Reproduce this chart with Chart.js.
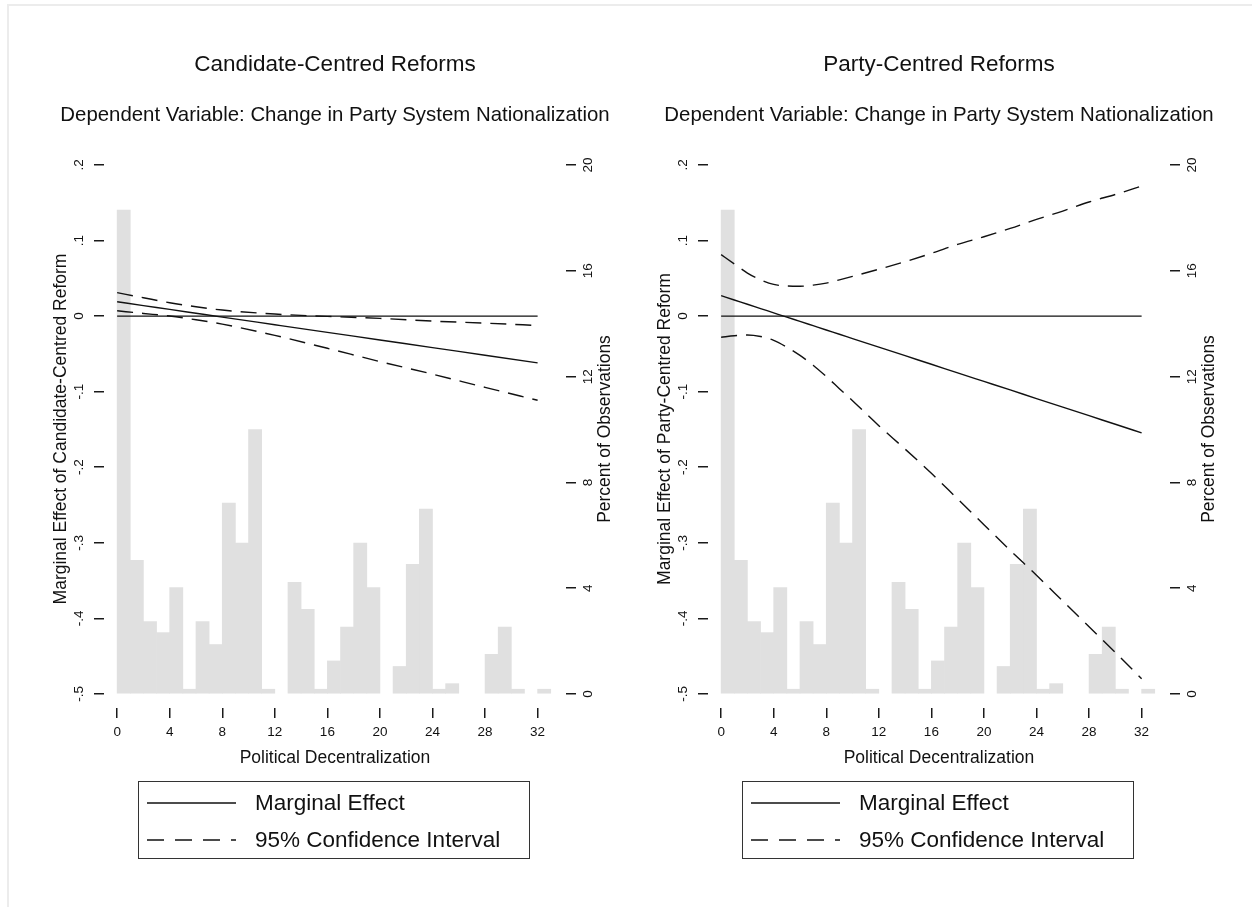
<!DOCTYPE html>
<html>
<head>
<meta charset="utf-8">
<script src="https://cdn.jsdelivr.net/npm/chart.js@4.4.0/dist/chart.umd.min.js"></script>
<style>
  html, body { margin: 0; padding: 0; background: #fff; }
  body { width: 1252px; height: 907px; position: relative; overflow: hidden;
         font-family: "Liberation Sans", Arial, sans-serif; color: #111; }
  .frame { position: absolute; left: 7px; top: 4px; width: 1300px; height: 1000px;
           border-left: 2px solid #ececec; border-top: 2px solid #ececec; }
  .panel { position: absolute; top: 0; height: 907px; }
  .panel canvas { position: absolute; left: 0; top: 0; }
  .title, .subtitle { position: absolute; left: 104px; width: 462px; text-align: center; white-space: nowrap; }
  .title { top: 50px; font-size: 22.5px; line-height: 28px; }
  .subtitle { top: 101px; left: 54px; width: 562px; font-size: 20.4px; line-height: 26px; }
  .legend { position: absolute; left: 138px; top: 781px; width: 392px; height: 78px;
            box-sizing: border-box; border: 1.5px solid #333; }
  .legend svg { position: absolute; left: 0; top: 0; }
  .legend span { position: absolute; left: 116px; font-size: 22.5px; line-height: 26px; white-space: nowrap; }
</style>
</head>
<body>
<div class="frame"></div>

<div class="panel" style="left:0; width:626px;">
  <canvas id="candidate" width="626" height="907"></canvas>
  <div class="title">Candidate-Centred Reforms</div>
  <div class="subtitle">Dependent Variable: Change in Party System Nationalization</div>
  <div class="legend">
    <svg width="390" height="76">
      <line x1="8" y1="21" x2="97" y2="21" stroke="#111" stroke-width="1.5"/>
      <line x1="8" y1="58" x2="97" y2="58" stroke="#111" stroke-width="1.5" stroke-dasharray="17 11"/>
    </svg>
    <span style="top:8px">Marginal Effect</span>
    <span style="top:45px">95% Confidence Interval</span>
  </div>
</div>

<div class="panel" style="left:604px; width:648px;">
  <canvas id="party" width="648" height="907"></canvas>
  <div class="title">Party-Centred Reforms</div>
  <div class="subtitle">Dependent Variable: Change in Party System Nationalization</div>
  <div class="legend">
    <svg width="390" height="76">
      <line x1="8" y1="21" x2="97" y2="21" stroke="#111" stroke-width="1.5"/>
      <line x1="8" y1="58" x2="97" y2="58" stroke="#111" stroke-width="1.5" stroke-dasharray="17 11"/>
    </svg>
    <span style="top:8px">Marginal Effect</span>
    <span style="top:45px">95% Confidence Interval</span>
  </div>
</div>

<script>
// histogram of political decentralization, one-unit bins starting at binStart
const binStart = [0, 1, 2, 3, 4, 5, 6, 7, 8, 9, 10, 11, 12, 13, 14, 15, 16,
                  17, 18, 19, 20, 21, 22, 23, 24, 25, 26, 27, 28, 29, 30, 31, 32];
const obsPercent = [18.3, 5.05, 2.74, 2.32, 4.02, 0.18, 2.74, 1.87, 7.22, 5.71, 10.0,
                    0.18, 0, 4.22, 3.2, 0.18, 1.25, 2.53, 5.71, 4.02, 0, 1.04, 4.9,
                    6.99, 0.18, 0.39, 0, 0, 1.5, 2.53, 0.18, 0, 0.18];

// candidate-centred reforms: marginal effect and 95% bounds
const candidateX = [0, 2, 4, 6, 8, 12, 16, 20, 24, 28, 32];
const candidateEffect = [0.019, 0.0139, 0.0089, 0.0038, -0.0013, -0.0114, -0.0215, -0.0316, -0.0417, -0.0518, -0.0619];
const candidateUpper = [0.031, 0.0243, 0.0177, 0.0124, 0.008, 0.0027, -0.0004, -0.003, -0.0066, -0.0093, -0.0124];
const candidateLower = [0.007, 0.0035, 0.0001, -0.0048, -0.0106, -0.0255, -0.0426, -0.0602, -0.0768, -0.0943, -0.1114];

// party-centred reforms: marginal effect and 95% bounds
const partyX = [0, 1, 2, 3, 4, 5, 6, 7, 8, 9, 10, 12, 14, 16, 18, 20, 22, 24, 26, 28, 30, 32];
const partyEffect = [0.027, 0.0213, 0.0157, 0.010, 0.0043, -0.0014, -0.007, -0.0127, -0.0184, -0.024, -0.0297,
                     -0.041, -0.0524, -0.0637, -0.0751, -0.0864, -0.0977, -0.1091, -0.1204, -0.1318, -0.1431, -0.1545];
const partyUpper = [0.0813, 0.069, 0.057, 0.048, 0.042, 0.0398, 0.0395, 0.041, 0.0437, 0.048, 0.0525,
                    0.062, 0.072, 0.083, 0.095, 0.105, 0.116, 0.128, 0.139, 0.151, 0.161, 0.172];
const partyLower = [-0.028, -0.026, -0.025, -0.027, -0.032, -0.041, -0.052, -0.065, -0.080, -0.096, -0.112,
                    -0.145, -0.176, -0.208, -0.242, -0.276, -0.310, -0.343, -0.377, -0.411, -0.445, -0.480];

// reference line at zero across the observed range
const zeroX = [0, 32];
const zeroY = [0, 0];

const xTicks = [0, 4, 8, 12, 16, 20, 24, 28, 32];
const effectTicks = [-0.5, -0.4, -0.3, -0.2, -0.1, 0, 0.1, 0.2];
const effectTickLabels = ['-.5', '-.4', '-.3', '-.2', '-.1', '0', '.1', '.2'];
const pctTicks = [0, 4, 8, 12, 16, 20];
const pctTickLabels = ['0', '4', '8', '12', '16', '20'];

const FONT = '"Liberation Sans", Arial, sans-serif';
const INK = '#111';

const points = (xs, ys) => xs.map((x, i) => ({ x: x, y: ys[i] }));

// empty bins get no bar at all (a zero bar would still show a hairline)
const binBars = () => binStart.map((b, i) => ({ x: b + 0.5, y: obsPercent[i] > 0 ? obsPercent[i] : null }));

// right-hand axis title, rotated the same way as the left one
const pctTitle = {
  id: 'pctTitle',
  afterDraw(chart) {
    const s = chart.scales.pct;
    const area = chart.chartArea;
    const ctx = chart.ctx;
    ctx.save();
    ctx.translate(s.left + 39, (area.top + area.bottom) / 2);
    ctx.rotate(-Math.PI / 2);
    ctx.font = '17.5px ' + FONT;
    ctx.fillStyle = INK;
    ctx.textAlign = 'center';
    ctx.textBaseline = 'middle';
    ctx.fillText('Percent of Observations', 0, 0);
    ctx.restore();
  }
};

function lineSet(xs, ys, dashed) {
  return {
    type: 'line',
    data: points(xs, ys),
    yAxisID: 'me',
    borderColor: INK,
    borderWidth: 1.4,
    borderDash: dashed ? [16, 9] : [],
    pointRadius: 0,
    cubicInterpolationMode: 'monotone',
    fill: false,
    order: 1
  };
}

const tickGrid = { drawOnChartArea: false, tickLength: 10, color: '#1a1a1a', lineWidth: 1.5 };

function drawPanel(id, yTitle, xs, effect, upper, lower, rightPad) {
  new Chart(document.getElementById(id), {
    type: 'bar',
    data: {
      datasets: [
        {
          type: 'bar',
          data: binBars(),
          yAxisID: 'pct',
          backgroundColor: '#e0e0e0',
          borderWidth: 0,
          barPercentage: 1,
          categoryPercentage: 1,
          order: 2
        },
        Object.assign(lineSet(zeroX, zeroY, false), { borderWidth: 1.2, cubicInterpolationMode: 'default', tension: 0 }),
        lineSet(xs, effect, false),
        lineSet(xs, upper, true),
        lineSet(xs, lower, true)
      ]
    },
    options: {
      responsive: false,
      animation: false,
      layout: { padding: { left: 44, top: 150, right: rightPad, bottom: 137 } },
      plugins: { legend: { display: false }, tooltip: { enabled: false } },
      scales: {
        x: {
          type: 'linear',
          min: -1,
          max: 34.16,
          offset: false,
          afterBuildTicks: s => { s.ticks = xTicks.map(v => ({ value: v })); },
          afterFit: s => { s.height = 62; },
          grid: Object.assign({ offset: false }, tickGrid),
          border: { display: false },
          ticks: { autoSkip: false, maxRotation: 0, padding: 6, color: INK, font: { family: FONT, size: 13.5 } },
          title: { display: true, text: 'Political Decentralization', color: INK,
                   font: { family: FONT, size: 17.5 }, padding: { top: 0, bottom: 1 } }
        },
        me: {
          type: 'linear',
          position: 'left',
          min: -0.5186,
          max: 0.2198,
          afterBuildTicks: s => { s.ticks = effectTicks.map(v => ({ value: v })); },
          afterFit: s => { s.width = 60; },
          grid: tickGrid,
          border: { display: false },
          ticks: { autoSkip: false, minRotation: 90, maxRotation: 90, crossAlign: 'center', padding: 7,
                   color: INK, font: { family: FONT, size: 13.5 },
                   callback: (v, i) => effectTickLabels[i] },
          title: { display: true, text: yTitle, color: INK,
                   font: { family: FONT, size: 17.5 }, padding: { top: 7, bottom: 0 } }
        },
        pct: {
          type: 'linear',
          position: 'right',
          min: -0.53,
          max: 20.57,
          afterBuildTicks: s => { s.ticks = pctTicks.map(v => ({ value: v })); },
          afterFit: s => { s.width = 40; },
          grid: tickGrid,
          border: { display: false },
          ticks: { autoSkip: false, minRotation: 90, maxRotation: 90, crossAlign: 'center', padding: 5,
                   color: INK, font: { family: FONT, size: 13.5 },
                   callback: (v, i) => pctTickLabels[i] }
        }
      }
    },
    plugins: [pctTitle]
  });
}

drawPanel('candidate', 'Marginal Effect of Candidate-Centred Reform',
          candidateX, candidateEffect, candidateUpper, candidateLower, 20);
drawPanel('party', 'Marginal Effect of Party-Centred Reform',
          partyX, partyEffect, partyUpper, partyLower, 42);
</script>
</body>
</html>
